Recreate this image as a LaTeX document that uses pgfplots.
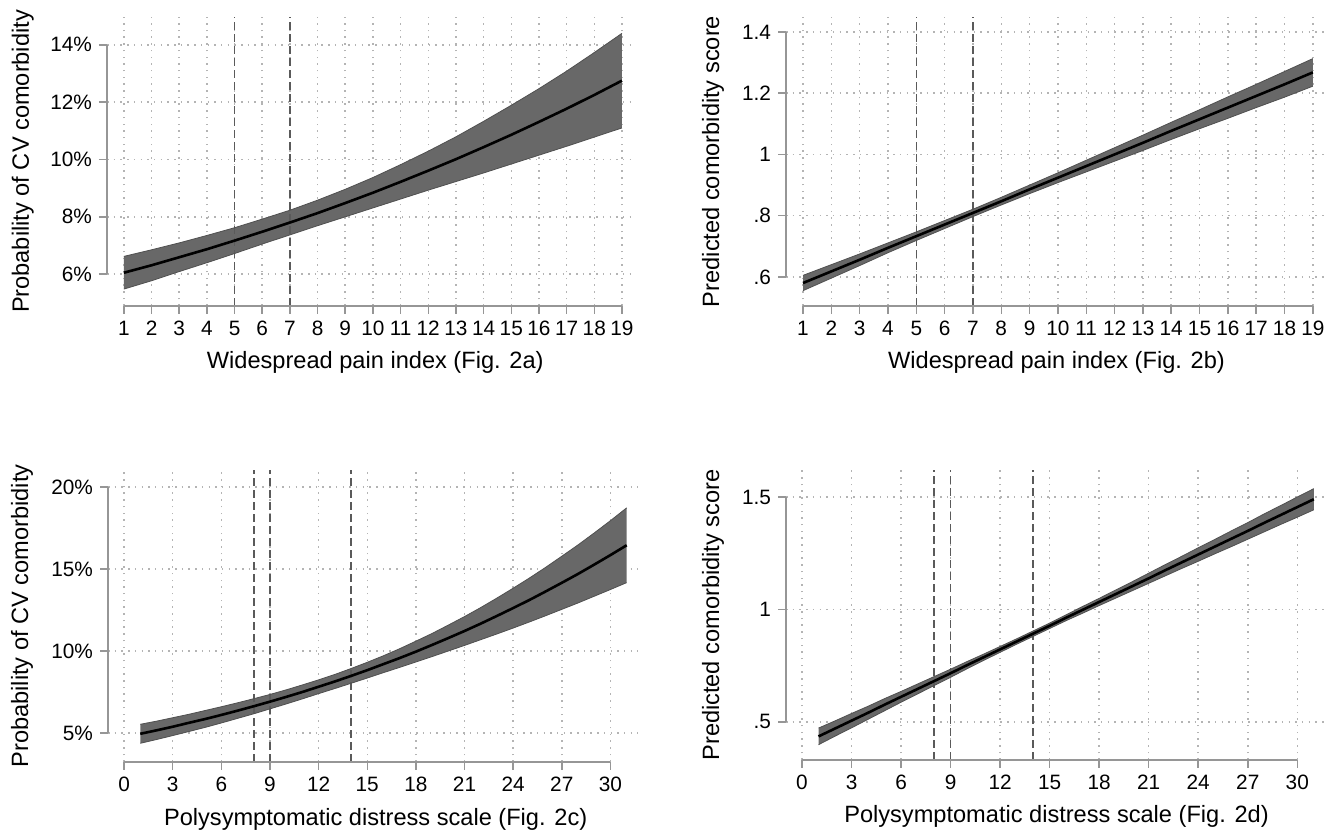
\documentclass[border=0pt]{standalone}
\usepackage{fontspec}
\setmainfont{Liberation Sans}
\usepackage{pgfplots}
\usepackage{pgfplotstable}
\pgfplotsset{compat=1.18}
\usepgfplotslibrary{fillbetween}

\definecolor{axisgray}{RGB}{150,150,150}
\definecolor{gridgray}{RGB}{180,180,180}
\definecolor{bandgray}{RGB}{104,104,104}
\definecolor{bandedge}{RGB}{80,80,80}
\definecolor{refgray}{RGB}{90,90,90}

% predicted probability, 95% CI (Fig. 2a)
\pgfplotstableread{
x lo mid hi
1 5.48 6.05 6.62
2 5.77 6.31 6.85
3 6.09 6.59 7.09
4 6.40 6.87 7.35
5 6.72 7.17 7.62
6 7.05 7.48 7.92
7 7.37 7.80 8.23
8 7.69 8.13 8.58
9 8.00 8.48 8.96
10 8.31 8.84 9.37
11 8.62 9.22 9.82
12 8.93 9.61 10.29
13 9.23 10.01 10.79
14 9.53 10.43 11.33
15 9.84 10.86 11.89
16 10.15 11.31 12.47
17 10.46 11.77 13.08
18 10.78 12.25 13.73
19 11.10 12.75 14.40
}\tabA

% predicted score (Fig. 2b)
\pgfplotstableread{
x lo mid hi
1 0.555 0.580 0.605
2 0.596 0.618 0.640
3 0.637 0.656 0.675
4 0.679 0.695 0.711
5 0.719 0.733 0.747
6 0.758 0.771 0.784
7 0.797 0.809 0.821
8 0.835 0.847 0.860
9 0.872 0.886 0.900
10 0.908 0.924 0.940
11 0.943 0.962 0.981
12 0.978 1.000 1.022
13 1.013 1.038 1.063
14 1.049 1.077 1.105
15 1.084 1.115 1.146
16 1.118 1.153 1.188
17 1.153 1.191 1.229
18 1.187 1.229 1.271
19 1.223 1.268 1.313
}\tabB

% predicted probability (Fig. 2c)
\pgfplotstableread{
x lo mid hi
1 4.37 4.95 5.53
2 4.60 5.16 5.72
3 4.84 5.38 5.93
4 5.09 5.62 6.14
5 5.34 5.85 6.37
6 5.61 6.10 6.60
7 5.89 6.36 6.84
8 6.17 6.63 7.09
9 6.47 6.91 7.35
10 6.77 7.20 7.63
11 7.08 7.50 7.93
12 7.40 7.82 8.24
13 7.71 8.14 8.57
14 8.03 8.48 8.93
15 8.35 8.83 9.31
16 8.68 9.20 9.71
17 9.00 9.57 10.14
18 9.33 9.96 10.60
19 9.66 10.37 11.07
20 10.00 10.79 11.58
21 10.34 11.22 12.10
22 10.69 11.67 12.65
23 11.04 12.14 13.23
24 11.40 12.62 13.83
25 11.77 13.11 14.45
26 12.15 13.63 15.10
27 12.54 14.16 15.78
28 12.93 14.70 16.47
29 13.34 15.27 17.20
30 13.75 15.85 17.95
31 14.17 16.45 18.73
}\tabC

% predicted score (Fig. 2d)
\pgfplotstableread{
x lo mid hi
1 0.398 0.435 0.472
2 0.436 0.470 0.504
3 0.473 0.505 0.537
4 0.511 0.540 0.569
5 0.549 0.576 0.603
6 0.587 0.611 0.635
7 0.624 0.646 0.668
8 0.661 0.681 0.701
9 0.698 0.716 0.734
10 0.736 0.752 0.768
11 0.773 0.787 0.801
12 0.809 0.822 0.835
13 0.845 0.857 0.869
14 0.880 0.892 0.904
15 0.915 0.927 0.939
16 0.950 0.963 0.976
17 0.983 0.998 1.013
18 1.017 1.033 1.049
19 1.050 1.068 1.086
20 1.083 1.103 1.123
21 1.116 1.138 1.161
22 1.149 1.174 1.199
23 1.182 1.209 1.236
24 1.214 1.244 1.274
25 1.247 1.279 1.311
26 1.279 1.314 1.349
27 1.312 1.349 1.386
28 1.345 1.385 1.425
29 1.378 1.420 1.462
30 1.410 1.455 1.500
31 1.443 1.490 1.537
}\tabD

\pgfplotsset{
  stata/.style={
    scale only axis,
    anchor=south west,
    axis x line*=bottom,
    axis y line*=left,
    axis line style={draw=none},
    tick align=outside,
    major tick length=4pt,
    tick style={axisgray, line width=0.75pt},
    grid=major,
    major grid style={gridgray, line width=0.75pt, dash pattern=on 0.75pt off 2.6pt},
    ticklabel style={font=\fontsize{10.4}{12}\selectfont, black},
    label style={font=\fontsize{11.8}{13}\selectfont},
    /pgf/number format/assume math mode=true,
    clip=false,
  },
  band/.style={draw=bandedge, line width=0.4pt},
  mean/.style={black, line width=1.3pt, no marks},
  ref/.style={refgray, line width=0.8pt, dash pattern=on 4pt off 2pt, no marks},
}

\begin{document}
\begin{tikzpicture}
% page frame (1 px of the reference = 0.5pt)
\path (0,0) rectangle (669pt,416pt);

% ---- Fig. 2a
\begin{axis}[stata,
  at={(53.5pt,263pt)}, width=263pt, height=144.5pt,
  xmin=0.39, xmax=19.4, ymin=4.89, ymax=14.97,
  xtick={1,...,19}, ytick={6,8,10,12,14},
  yticklabels={6\%,8\%,10\%,12\%,14\%},
  xlabel={Widespread pain index (Fig. 2a)},
  ylabel={Probability of CV comorbidity},
  xlabel style={at={(axis description cs:0.51,-0.194)}, anchor=center},
  ylabel style={at={(axis description cs:-0.16,0.5)}, anchor=center},
]
\addplot[ref] coordinates {(5,4.89) (5,14.97)};
\addplot[ref] coordinates {(7,4.89) (7,14.97)};
\addplot[band, name path=hiA] table[x=x,y=hi]{\tabA};
\addplot[band, name path=loA] table[x=x,y=lo]{\tabA};
\addplot[fill=bandgray, draw=none] fill between[of=hiA and loA];
\addplot[mean] table[x=x,y=mid]{\tabA};
\draw[axisgray, line width=0.75pt] (axis cs:1,4.89) -- (axis cs:19,4.89);
\draw[axisgray, line width=0.75pt] (axis cs:0.39,6) -- (axis cs:0.39,14);
\end{axis}

% ---- Fig. 2b
\begin{axis}[stata,
  at={(393pt,263pt)}, width=270.5pt, height=144.5pt,
  xmin=0.4, xmax=19.5, ymin=0.505, ymax=1.449,
  xtick={1,...,19}, ytick={0.6,0.8,1,1.2,1.4},
  yticklabels={.6,.8,1,1.2,1.4},
  xlabel={Widespread pain index (Fig. 2b)},
  ylabel={Predicted comorbidity score},
  xlabel style={at={(axis description cs:0.5,-0.194)}, anchor=center},
  ylabel style={at={(axis description cs:-0.135,0.5)}, anchor=center},
]
\addplot[ref] coordinates {(5,0.505) (5,1.449)};
\addplot[ref] coordinates {(7,0.505) (7,1.449)};
\addplot[band, name path=hiB] table[x=x,y=hi]{\tabB};
\addplot[band, name path=loB] table[x=x,y=lo]{\tabB};
\addplot[fill=bandgray, draw=none] fill between[of=hiB and loB];
\addplot[mean] table[x=x,y=mid]{\tabB};
\draw[axisgray, line width=0.75pt] (axis cs:1,0.505) -- (axis cs:19,0.505);
\draw[axisgray, line width=0.75pt] (axis cs:0.4,0.6) -- (axis cs:0.4,1.4);
\end{axis}

% ---- Fig. 2c
\begin{axis}[stata,
  at={(54pt,35pt)}, width=265pt, height=146pt,
  xmin=-0.99, xmax=31.7, ymin=3.23, ymax=21.04,
  xtick={0,3,...,30}, ytick={5,10,15,20},
  yticklabels={5\%,10\%,15\%,20\%},
  xlabel={Polysymptomatic distress scale (Fig. 2c)},
  ylabel={Probability of CV comorbidity},
  xlabel style={at={(axis description cs:0.505,-0.195)}, anchor=center},
  ylabel style={at={(axis description cs:-0.162,0.5)}, anchor=center},
]
\addplot[ref] coordinates {(8,3.23) (8,21.04)};
\addplot[ref] coordinates {(9,3.23) (9,21.04)};
\addplot[ref] coordinates {(14,3.23) (14,21.04)};
\addplot[band, name path=hiC] table[x=x,y=hi]{\tabC};
\addplot[band, name path=loC] table[x=x,y=lo]{\tabC};
\addplot[fill=bandgray, draw=none] fill between[of=hiC and loC];
\addplot[mean] table[x=x,y=mid]{\tabC};
\draw[axisgray, line width=0.75pt] (axis cs:0,3.23) -- (axis cs:30,3.23);
\draw[axisgray, line width=0.75pt] (axis cs:-0.99,5) -- (axis cs:-0.99,20);
\end{axis}

% ---- Fig. 2d
\begin{axis}[stata,
  at={(393pt,36pt)}, width=270.5pt, height=145pt,
  xmin=-0.97, xmax=31.8, ymin=0.33, ymax=1.62,
  xtick={0,3,...,30}, ytick={0.5,1,1.5},
  yticklabels={.5,1,1.5},
  xlabel={Polysymptomatic distress scale (Fig. 2d)},
  ylabel={Predicted comorbidity score},
  xlabel style={at={(axis description cs:0.5,-0.193)}, anchor=center},
  ylabel style={at={(axis description cs:-0.135,0.5)}, anchor=center},
]
\addplot[ref] coordinates {(8,0.33) (8,1.62)};
\addplot[ref] coordinates {(9,0.33) (9,1.62)};
\addplot[ref] coordinates {(14,0.33) (14,1.62)};
\addplot[band, name path=hiD] table[x=x,y=hi]{\tabD};
\addplot[band, name path=loD] table[x=x,y=lo]{\tabD};
\addplot[fill=bandgray, draw=none] fill between[of=hiD and loD];
\addplot[mean] table[x=x,y=mid]{\tabD};
\draw[axisgray, line width=0.75pt] (axis cs:0,0.33) -- (axis cs:30,0.33);
\draw[axisgray, line width=0.75pt] (axis cs:-0.97,0.5) -- (axis cs:-0.97,1.5);
\end{axis}
\end{tikzpicture}
\end{document}
